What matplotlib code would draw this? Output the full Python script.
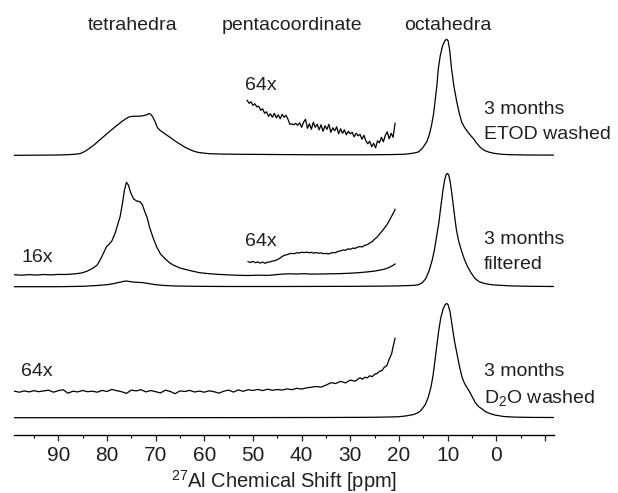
import matplotlib
matplotlib.use('Agg')
import matplotlib.pyplot as plt
import numpy as np

plt.rcParams['font.family'] = ['Liberation Sans', 'DejaVu Sans']
plt.rcParams['mathtext.fontset'] = 'custom'
plt.rcParams['mathtext.rm'] = 'Liberation Sans'
plt.rcParams['mathtext.it'] = 'Liberation Sans:italic'
plt.rcParams['mathtext.default'] = 'regular'

# (ppm, intensity), intensity in px above each trace's baseline
etod_main = [(99.1, 0), (95, 0.1), (90, 0.3), (88, 0.6), (86.5, 1.1), (85.5, 1.7), (84.5, 4),
             (83.5, 7.3), (82.5, 11), (81.5, 15.3), (80.5, 19.5), (79.5, 23.6), (78.8, 26.5),
             (78.3, 28.5), (77.6, 31.2), (76.8, 34.3), (76, 37), (75.3, 38.6), (74.5, 39),
             (73.5, 39.1), (72.6, 39.5), (72, 40.2), (71.6, 41.2), (71.3, 41.7), (71.0, 41),
             (70.6, 38.5), (70.1, 33.5), (69.6, 27.5), (69.1, 25), (68.3, 22.3), (67.5, 19.5),
             (66.7, 16.8), (66, 14.3), (65, 11.2), (64, 8.2), (63, 5.8), (62, 3.8), (61, 2.7),
             (59, 1.6), (56, 1.2), (52, 1.0), (46, 0.8), (40, 0.6), (34, 0.5), (28, 0.5),
             (24, 0.6), (22, 0.7), (20, 0.9), (19, 1.0), (18, 1.5), (17, 2.2), (16, 3.3),
             (15.2, 7), (14.3, 13.3), (13.8, 20), (13.3, 30), (12.9, 41), (12.6, 53), (12.2, 70),
             (11.9, 87), (11.5, 100), (11, 110), (10.5, 115), (10.2, 116), (9.9, 114.5),
             (9.6, 106), (9.2, 87), (8.7, 69), (8.1, 53), (7.6, 42), (7.1, 33.3), (6.6, 28.5),
             (6.1, 25), (5.4, 20.5), (4.7, 16.7), (4, 12), (3.35, 8.3), (2.5, 5), (1.6, 3.3),
             (0.5, 2), (-1.1, 1), (-3, 0.6), (-6, 0.3), (-11.8, 0.2)]

etod_64x = [(51.2, 55), (50.8, 52), (50.4, 53.5), (50.0, 50), (49.6, 51.5), (49.2, 48.5),
            (48.8, 49), (48.4, 45), (48.0, 46.5), (47.6, 42), (47.2, 43.5), (46.8, 39),
            (46.4, 41.5), (46.0, 38), (45.6, 42), (45.2, 37.5), (44.8, 40.5), (44.4, 36.5),
            (44.0, 41), (43.6, 38), (43.2, 40), (42.8, 36), (42.4, 31), (42.0, 31.5),
            (41.6, 30.5), (41.2, 32), (40.8, 30), (40.4, 32.5), (40.0, 28), (39.6, 33),
            (39.2, 36), (38.8, 27), (38.4, 31.5), (38.0, 26), (37.6, 33), (37.2, 28),
            (36.8, 31), (36.4, 25.5), (36.0, 30.5), (35.6, 24), (35.2, 29.5), (34.8, 26),
            (34.4, 31), (34.0, 23), (33.6, 27.5), (33.2, 24.5), (32.8, 28.5), (32.4, 21.5),
            (32.0, 26.5), (31.6, 22), (31.2, 25.5), (30.8, 20.5), (30.4, 24), (30.0, 21.5),
            (29.6, 23), (29.2, 18.5), (28.8, 22), (28.4, 19.5), (28.0, 21), (27.6, 16),
            (27.2, 20), (26.8, 14.5), (26.4, 11.5), (26.0, 14), (25.6, 8.5), (25.2, 12),
            (24.8, 7.5), (24.4, 14.5), (24.0, 12.5), (23.6, 18), (23.2, 13.5), (22.8, 20),
            (22.4, 23.5), (22.0, 16.5), (21.6, 22), (21.2, 18), (20.8, 32)]

filt_main = [(99.1, 0), (90, 0), (85, 0.4), (82, 1.2), (80, 2), (78.5, 3.2), (77.3, 4.5),
             (76.5, 5.4), (76, 5.7), (75.4, 5.2), (74.5, 4.6), (73.5, 4.3), (72.7, 4.1),
             (72, 3.6), (71, 2.8), (70, 2), (68.5, 1.3), (66, 0.7), (62, 0.4), (55, 0.2),
             (45, 0.2), (35, 0.3), (28, 0.4), (23, 0.6), (20, 0.8), (19, 1.0), (17, 1.3),
             (16, 2), (15.2, 4), (14.5, 8), (13.8, 16), (13.2, 26), (12.7, 37), (12.2, 52),
             (11.8, 64), (11.4, 80), (11, 95), (10.6, 107), (10.3, 112), (10.05, 113.3),
             (9.8, 112), (9.5, 106), (9.1, 92), (8.7, 76), (8.2, 57), (7.7, 45), (7.2, 36.7),
             (6.6, 28), (6, 21), (5.2, 14), (4.4, 8.3), (3.5, 5), (2.5, 3.3), (1.3, 2.2),
             (0.3, 1.7), (-3, 0.8), (-7, 0.4), (-11.8, 0.2)]

filt_16x = [(99.1, 0.3), (97.5, -0.2), (96, 0.4), (94.5, -0.1), (93, 0.5), (91.5, 0.1),
            (90, 0.6), (88.5, 0.5), (87, 1.0), (86, 1.5), (85, 2.3), (84, 4), (83, 6.5),
            (82, 10), (81.4, 15), (80.7, 22), (80.1, 28.3), (79.5, 31), (79, 34), (78.3, 42),
            (77.7, 52), (77.3, 58.3), (76.8, 72), (76.4, 85), (76, 92.7), (75.6, 90),
            (75.1, 82), (74.5, 76), (73.9, 74), (73.2, 73.3), (72.7, 70), (72.2, 63),
            (71.8, 58.3), (71.2, 47), (70.5, 37), (69.8, 28.3), (69, 21), (68, 16),
            (67.2, 12.5), (66.4, 10), (65, 7), (63, 4.5), (61, 2.3), (59, 1.3), (57, 0.6),
            (55, 0.1), (53, -0.3), (51, -0.5), (49, -0.2), (47, -0.4), (45.5, 0.2), (44, 0.9),
            (42.5, 1.2), (41, 1.0), (39.5, 1.3), (38, 0.9), (36, 1.0), (34, 1.2), (32, 1.4),
            (30, 1.8), (28, 2.4), (26.5, 3.1), (25, 3.9), (24, 4.8), (23, 5.8), (22.2, 7.2),
            (21.5, 8.8), (20.8, 11)]

filt_64x = [(51.0, 25.0), (50.5, 24.2), (50.0, 25.3), (49.5, 24.0), (49.0, 24.8), (48.5, 23.6),
            (48.0, 24.6), (47.5, 23.4), (47.0, 24.5), (46.5, 24.8), (46.0, 25.6), (45.5, 26.0),
            (45.0, 27.0), (44.5, 28.4), (44.0, 30.2), (43.5, 31.5), (43.0, 32.0), (42.5, 32.9),
            (42.0, 33.3), (41.5, 33.0), (41.0, 34.0), (40.5, 33.6), (40.0, 34.5), (39.5, 34.1),
            (39.0, 34.6), (38.5, 34.0), (38.0, 34.3), (37.5, 33.6), (37.0, 34.2), (36.5, 33.4),
            (36.0, 33.8), (35.5, 33.0), (35.0, 33.3), (34.5, 32.7), (34.0, 33.6), (33.5, 34.2),
            (33.0, 34.0), (32.5, 35.4), (32.0, 35.8), (31.5, 36.8), (31.0, 36.4), (30.5, 37.8),
            (30.0, 37.4), (29.5, 38.6), (29.0, 38.3), (28.5, 39.6), (28.0, 40.1), (27.5, 39.8),
            (27.0, 41.5), (26.5, 42.0), (26.0, 43.8), (25.5, 45.0), (25.0, 47.6), (24.5, 49.5),
            (24.0, 52.6), (23.5, 55.4), (23.0, 58.5), (22.5, 61.8), (22.0, 66.0), (21.5, 70.5),
            (21.0, 75.0), (20.8, 77.4)]

d2o_main = [(99.1, 0), (70, 0), (50, 0.1), (35, 0.2), (26, 0.4), (22, 0.7), (20, 1),
            (18.5, 1.8), (17, 3.2), (16, 5.2), (15.4, 7.7), (14.6, 13), (14, 20), (13.4, 31),
            (13, 42), (12.6, 57), (12.2, 73), (11.8, 88), (11.4, 100), (10.9, 109), (10.5, 113),
            (10.2, 114.3), (9.9, 113), (9.5, 106), (9.1, 93), (8.6, 77), (8.0, 62), (7.5, 50),
            (7.0, 40), (6.5, 34), (6.0, 30), (5.5, 26), (4.9, 20.5), (4.3, 15), (3.6, 11),
            (3.0, 9), (2.2, 6), (1.2, 4), (0.3, 2.7), (-1.5, 1.2), (-3.7, 0.6), (-7, 0.3),
            (-11.8, 0.2)]

d2o_64x = [(99, 26.5), (98, 25.5), (97, 26.8), (96, 25.8), (95, 27), (94, 26), (93, 26.8),
           (92, 27.5), (91, 25.5), (90, 27), (89, 28), (88, 24.5), (87, 26.5), (86, 25.8),
           (85, 27.2), (84, 26), (83, 26.5), (82, 25.5), (81, 27.3), (80, 26.2), (79, 28.3),
           (78, 27), (77, 26), (76, 24.3), (75, 27.6), (74, 26.8), (73, 28), (72, 25.8),
           (71, 27.2), (70, 26), (69, 24.8), (68, 27.5), (67, 26.3), (66, 24), (65, 26.8),
           (64, 26.2), (63, 27.3), (62, 25.7), (61, 26.6), (60, 25.5), (59, 26.9), (58, 26),
           (57, 24.5), (56, 26.5), (55, 27.6), (54, 25.6), (53, 27.8), (52, 26.4), (51, 28),
           (50, 27.2), (49, 28.3), (48, 27.1), (47, 28.5), (46, 27.4), (45, 28.2), (44, 27.6),
           (43, 28.8), (42, 28), (41, 29.4), (40, 28.6), (39, 29.8), (38, 30.5), (37, 31.2),
           (36, 30.6), (35, 32.5), (34, 35), (33, 34.2), (32, 36.4), (31, 34.8), (30, 37.6),
           (29, 36.5), (28, 40), (27.5, 38.5), (27, 40.5), (26.5, 39.8), (26, 42), (25.5, 41),
           (25, 43.5), (24.5, 44.2), (24, 46.4), (23.5, 47), (23, 50.5), (22.5, 52), (22, 58.5),
           (21.5, 64), (21.2, 71), (20.8, 79.4)]

region_labels = ['tetrahedra', 'pentacoordinate', 'octahedra']
region_ppm = [74.7, 42.0, 9.9]
sample_labels = [('3 months', 'ETOD washed'), ('3 months', 'filtered'),
                 ('3 months', 'D$_2$O washed')]
tick_vals = [90, 80, 70, 60, 50, 40, 30, 20, 10, 0, -10]
tick_labels = ['90', '80', '70', '60', '50', '40', '30', '20', '10', '0', '']

# vertical offsets (px above axis line)
off_top, off_mid, off_bot = 279.7, 148.3, 17.3
off_16x = off_mid + 11.7

fig = plt.figure(figsize=(6.18, 4.93), dpi=100)
ax = fig.add_axes([14 / 618, 58 / 493, (553.7 - 14) / 618, 435 / 493])


def draw(data, off):
    arr = np.array(data, dtype=float)
    ax.plot(arr[:, 0], arr[:, 1] + off, color='black', lw=0.9, solid_joinstyle='round')


draw(etod_main, off_top)
draw(etod_64x, off_top)
draw(filt_main, off_mid)
draw(filt_16x, off_16x)
draw(filt_64x, off_mid)
draw(d2o_main, off_bot)
draw(d2o_64x, off_bot)

ax.set_xlim(99.1, -11.8)
ax.set_ylim(0, 435)

fs = 14
for lab, p in zip(region_labels, region_ppm):
    ax.text(p, 410, lab, ha='center', va='center', fontsize=fs, color='#231f20')

ax.text(48.4, 350, '64x', ha='center', va='center', fontsize=fs, color='#231f20')
ax.text(94.4, 178, '16x', ha='center', va='center', fontsize=fs, color='#231f20')
ax.text(48.4, 193, '64x', ha='center', va='center', fontsize=fs, color='#231f20')
ax.text(94.4, 64, '64x', ha='center', va='center', fontsize=fs, color='#231f20')

label_y = [(325, 300.5), (195, 170.5), (63.5, 37.5)]
for (l1, l2), (y1, y2) in zip(sample_labels, label_y):
    ax.text(2.5, y1, l1, ha='left', va='center', fontsize=fs, color='#231f20')
    ax.text(2.5, y2, l2, ha='left', va='center', fontsize=fs, color='#231f20')

for s in ['left', 'right', 'top']:
    ax.spines[s].set_visible(False)
ax.spines['bottom'].set_linewidth(1.0)
ax.set_yticks([])
ax.set_xticks(tick_vals)
ax.set_xticklabels(tick_labels)
ax.set_xticks([95, 85, 75, 65, 55, 45, 35, 25, 15, 5, -5], minor=True)
ax.tick_params(axis='x', which='major', direction='out', length=4, width=0.9,
               labelsize=15, pad=4, colors='#231f20')
ax.tick_params(axis='x', which='minor', direction='out', length=2, width=0.8)

# axis title placed directly so it sits where the reference has it
fig.text(284 / 618, 12 / 493, '$^{27}$Al Chemical Shift [ppm]', ha='center', va='center',
         fontsize=14.5, color='#231f20')

plt.savefig('out.png', dpi=100)
